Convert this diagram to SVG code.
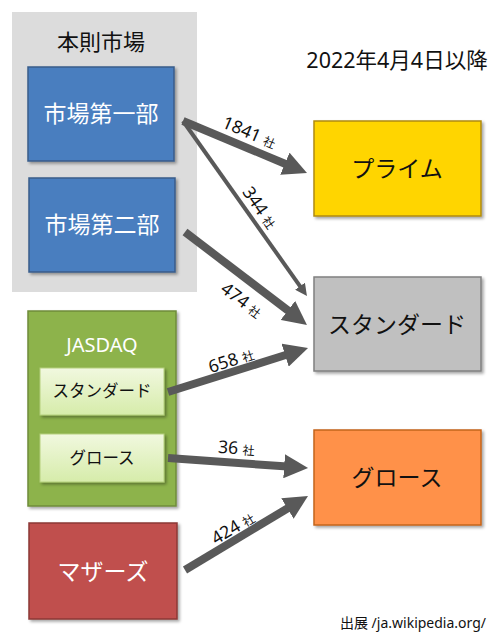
<svg xmlns="http://www.w3.org/2000/svg" width="500" height="637" viewBox="0 0 500 637">
<style>
text{font-family:"Noto Sans","Noto Sans CJK JP",sans-serif;text-anchor:middle}
.w{fill:#fff;font-size:23px}
.b{fill:#111;font-size:23px}
.s{fill:#111;font-size:16.5px}
.lbl{fill:#111;font-size:17.5px}
.sha{font-size:12px}
.arr{stroke:#595959;fill:none;marker-end:url(#ah)}
</style>
<defs>
<filter id="sh" x="-10%" y="-10%" width="130%" height="130%"><feDropShadow dx="2" dy="2" stdDeviation="1.5" flood-color="#000" flood-opacity="0.35"/></filter>
<linearGradient id="lg" x1="0" y1="0" x2="0" y2="1"><stop offset="0" stop-color="#f1f8df"/><stop offset="1" stop-color="#d6ecaa"/></linearGradient>
<marker id="ah" viewBox="0 0 10 10" refX="3" refY="5" markerWidth="3" markerHeight="3" orient="auto" markerUnits="strokeWidth"><path d="M0,0 L10,5 L0,10 z" fill="#595959"/></marker>
</defs>
<rect width="500" height="637" fill="#fff"/>
<g id="honsoku">
<rect x="12" y="12" width="185" height="280" fill="#dcdcdc"/>
<text x="101" y="50" style="font-size:22px;fill:#111">本則市場</text>
</g>
<g id="ichibu">
<rect x="28" y="67" width="146" height="94" fill="#4a7ebf" stroke="#385d8a" stroke-width="1.5" filter="url(#sh)"/>
<text x="101" y="122" class="w">市場第一部</text>
</g>
<g id="nibu">
<rect x="29" y="178" width="146" height="94" fill="#4a7ebf" stroke="#385d8a" stroke-width="1.5" filter="url(#sh)"/>
<text x="102" y="233" class="w">市場第二部</text>
</g>
<g id="jasdaq">
<rect x="28" y="311" width="148" height="195" fill="#8db34c" stroke="#6f8c3a" stroke-width="1.5" filter="url(#sh)"/>
<text x="102" y="352" style="fill:#fff;font-size:20px">JASDAQ</text>
</g>
<g id="j-standard">
<rect x="40" y="368" width="124" height="47" fill="url(#lg)" stroke="#b5d07d" stroke-width="1" filter="url(#sh)"/>
<text x="102" y="397" class="s">スタンダード</text>
</g>
<g id="j-growth">
<rect x="40" y="434" width="124" height="48" fill="url(#lg)" stroke="#b5d07d" stroke-width="1" filter="url(#sh)"/>
<text x="102" y="464" class="s">グロース</text>
</g>
<g id="mothers">
<rect x="29" y="523" width="148" height="96" fill="#c0504d" stroke="#8c3836" stroke-width="1.5" filter="url(#sh)"/>
<text x="103" y="580" class="w">マザーズ</text>
</g>
<g id="title">
<text x="397" y="68" style="font-size:21.5px;fill:#111">2022年4月4日以降</text>
</g>
<g id="prime">
<rect x="314" y="121" width="167" height="95" fill="#ffd500" stroke="#b08a10" stroke-width="1.5" filter="url(#sh)"/>
<text x="397" y="177" class="b">プライム</text>
</g>
<g id="standard">
<rect x="314" y="277" width="167" height="94" fill="#c0c0c0" stroke="#808080" stroke-width="1.5" filter="url(#sh)"/>
<text x="397" y="333" class="b">スタンダード</text>
</g>
<g id="growth">
<rect x="314" y="430" width="167" height="95" fill="#ff914a" stroke="#c4641c" stroke-width="1.5" filter="url(#sh)"/>
<text x="397" y="486" class="b">グロース</text>
</g>
<g id="connectors">
<line class="arr" x1="183" y1="121" x2="291.5" y2="166.5" stroke-width="8"/>
<line class="arr" x1="183" y1="121" x2="302.1" y2="289.1" stroke-width="4"/>
<line class="arr" x1="185" y1="232" x2="293.6" y2="314.8" stroke-width="8"/>
<line class="arr" x1="168" y1="392" x2="292" y2="353" stroke-width="8"/>
<line class="arr" x1="168" y1="458" x2="291.3" y2="466.8" stroke-width="8"/>
<line class="arr" x1="185" y1="570" x2="293.6" y2="504.7" stroke-width="8"/>
<text class="lbl" transform="translate(247,138) rotate(23)">1841 <tspan class="sha">社</tspan></text>
<text class="lbl" transform="translate(255,211) rotate(55)">344 <tspan class="sha">社</tspan></text>
<text class="lbl" transform="translate(238,305) rotate(37)">474 <tspan class="sha">社</tspan></text>
<text class="lbl" transform="translate(233,366) rotate(-18)">658 <tspan class="sha">社</tspan></text>
<text class="lbl" transform="translate(236,454) rotate(4)">36 <tspan class="sha">社</tspan></text>
<text class="lbl" transform="translate(236,533) rotate(-31)">424 <tspan class="sha">社</tspan></text>
</g>
<g id="source">
<text x="413" y="628" style="font-size:14px;fill:#111">出展 /ja.wikipedia.org/</text>
</g>
</svg>
